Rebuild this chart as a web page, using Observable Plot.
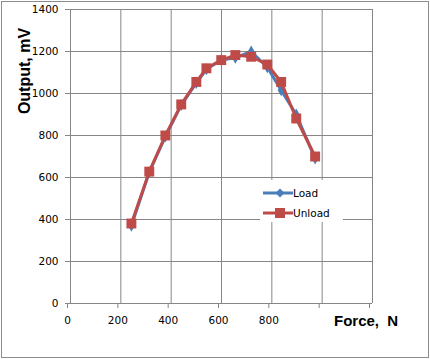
<!DOCTYPE html>
<html><head><meta charset="utf-8">
<script src="https://cdn.jsdelivr.net/npm/d3@7"></script>
<script src="https://cdn.jsdelivr.net/npm/@observablehq/plot@0.6"></script>
<style>
body{margin:0;background:#fff;}
#wrap{position:relative;width:430px;height:359px;overflow:hidden;font-family:"DejaVu Sans",sans-serif;}
#border{position:absolute;left:1px;top:1px;width:426px;height:355px;border:1px solid #8c8c8c;pointer-events:none;}
.t{position:absolute;white-space:nowrap;color:#000;}
</style></head>
<body><div id="wrap"><div id="chart"></div><div id="border"></div></div>
<script>
const force  = [242, 313, 377, 440, 500, 540, 599, 655, 718, 782, 837, 897, 972];
const load   = [370, 625, 795, 945, 1050, 1115, 1160, 1170, 1200, 1125, 1015, 900, 690];
const unload = [381, 628, 800, 948, 1055, 1120, 1159, 1183, 1175, 1138, 1055, 881, 700];
const xTicks = [0, 200, 400, 600, 800, 1000, 1200];
const xTickLabels = ["0", "200", "400", "600", "800", "", ""];
const yTicks = [0, 200, 400, 600, 800, 1000, 1200, 1400];
const seriesNames = ["Load", "Unload"];
const colors = ["#4a7ebb", "#be4b48"];

const loadData = force.map((f, i) => ({f, v: load[i]}));
const unloadData = force.map((f, i) => ({f, v: unload[i]}));

const chart = Plot.plot({
  width: 430, height: 359,
  marginLeft: 70, marginRight: 58, marginTop: 9, marginBottom: 56,
  style: {fontFamily: "DejaVu Sans", fontSize: "10.5px", color: "#000", background: "transparent"},
  x: {domain: [0, 1200]},
  y: {domain: [0, 1400]},
  marks: [
    Plot.gridX(xTicks, {stroke: "#868686", strokeOpacity: 1}),
    Plot.gridY(yTicks, {stroke: "#868686", strokeOpacity: 1}),
    Plot.axisX(xTicks, {tickSize: 5, tickPadding: 8, stroke: "#868686", dx: -3, label: null,
      tickFormat: d => xTickLabels[xTicks.indexOf(d)]}),
    Plot.axisY(yTicks, {tickSize: 5, tickPadding: 7, stroke: "#868686", label: null,
      tickFormat: d => String(d)}),
    Plot.line(loadData, {x: "f", y: "v", stroke: colors[0], strokeWidth: 3}),
    Plot.dot(loadData, {x: "f", y: "v", symbol: "diamond", r: 3.6, fill: colors[0], stroke: "none"}),
    Plot.line(unloadData, {x: "f", y: "v", stroke: colors[1], strokeWidth: 3}),
    Plot.dot(unloadData, {x: "f", y: "v", symbol: "square", r: 5.6, fill: colors[1], stroke: "none"})
  ]
});
document.getElementById("chart").appendChild(chart);

const wrap = document.getElementById("wrap");
function addText(txt, css) {
  const d = document.createElement("div");
  d.className = "t"; d.textContent = txt; d.style.cssText += css;
  wrap.insertBefore(d, document.getElementById("border"));
  return d;
}
// axis titles
addText("Output, mV", "left:-21px;top:62px;width:92px;text-align:center;font:bold 16px 'Liberation Sans',Arial,sans-serif;transform:rotate(-90deg);");
addText("Force,  N", "left:334px;top:312px;font:bold 15px 'Liberation Sans',Arial,sans-serif;white-space:pre;");

// legend
const lg = document.createElement("div");
lg.style.cssText = "position:absolute;left:260px;top:180px;width:83px;height:42px;background:#fff;";
wrap.insertBefore(lg, document.getElementById("border"));
const ns = "http://www.w3.org/2000/svg";
seriesNames.forEach((name, i) => {
  const y = 13 + i * 20;
  const s = document.createElementNS(ns, "svg");
  s.setAttribute("width", 34); s.setAttribute("height", 14);
  s.style.cssText = `position:absolute;left:2px;top:${y - 7}px;`;
  const l = document.createElementNS(ns, "line");
  l.setAttribute("x1", 1); l.setAttribute("x2", 31); l.setAttribute("y1", 7); l.setAttribute("y2", 7);
  l.setAttribute("stroke", colors[i]); l.setAttribute("stroke-width", 3);
  s.appendChild(l);
  if (i === 0) {
    const p = document.createElementNS(ns, "path");
    p.setAttribute("d", "M18,2.5L22.5,7L18,11.5L13.5,7Z"); p.setAttribute("fill", colors[i]);
    s.appendChild(p);
  } else {
    const r = document.createElementNS(ns, "rect");
    r.setAttribute("x", 13); r.setAttribute("y", 2); r.setAttribute("width", 10); r.setAttribute("height", 10);
    r.setAttribute("fill", colors[i]);
    s.appendChild(r);
  }
  lg.appendChild(s);
  const t = document.createElement("div");
  t.className = "t"; t.textContent = name;
  t.style.cssText += `left:33px;top:${y - 7}px;font-size:10.5px;line-height:14px;font-family:'DejaVu Sans',sans-serif;`;
  lg.appendChild(t);
});
</script></body></html>
